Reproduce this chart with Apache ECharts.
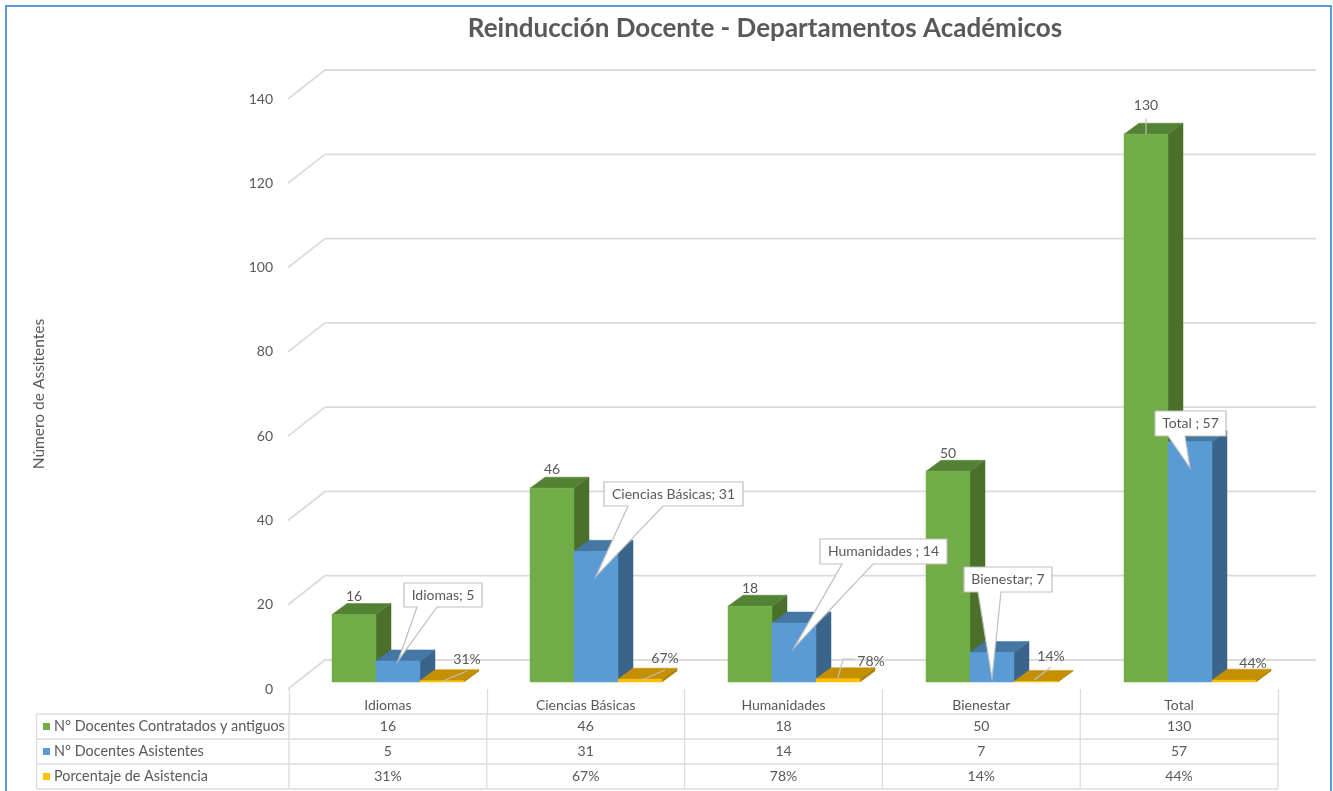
<!DOCTYPE html>
<html>
<head>
<meta charset="utf-8">
<title>Reinducción Docente</title>
<script src="https://cdn.jsdelivr.net/npm/echarts@6/dist/echarts.min.js"></script>
<style>
  html, body { margin: 0; padding: 0; background: #fff; }
  #main { width: 1333px; height: 791px; }
</style>
</head>
<body>
<div id="main"></div>
<script>
// data
const categories = ['Idiomas', 'Ciencias Básicas', 'Humanidades', 'Bienestar', 'Total']
const contratados = [16, 46, 18, 50, 130]
const asistentes = [5, 31, 14, 7, 57]
const porcentaje = [0.31, 0.67, 0.78, 0.14, 0.44]
const yTicks = [0, 20, 40, 60, 80, 100, 120, 140]
const seriesNames = ['N° Docentes Contratados y antiguos', 'N° Docentes Asistentes', 'Porcentaje de Asistencia']
const calloutSeparators = ['; ', '; ', ' ; ', '; ', ' ; ']

// layout of the hand-placed callouts and labels, in pixels
const FONT = 'Lato, "Noto Sans", sans-serif'
const TEXT = '#595959'
const LINE = '#dcdcdc'
const calloutBoxes = [
  { x: 404, y: 583, w: 78, h: 24, root: [417, 437], drop: 0 },
  { x: 604, y: 482, w: 139, h: 24, root: [628, 663], drop: 25 },
  { x: 820, y: 539, w: 127, h: 25, root: [842, 873], drop: 25 },
  { x: 964, y: 567, w: 88, h: 25, root: [978, 1001], drop: 26 },
  { x: 1155, y: 411, w: 71, h: 25, root: [1168, 1185], drop: 26 }
]
const greenLabelLift = [18, 19, 18, 18, 29]
const greenLeaders = [null, null, null, null, [[0, -16], [0, 0]]]
// offsets from the front-left corner of each yellow bar
const pctLabelAt = [[47, -23], [47, -24], [55, -21], [37, -26], [41, -19]]
const pctLeaders = [
  [[47, -11], [23, -1]],
  [[47, -12], [24, -2]],
  [[39, -23], [27, -23], [22, -4]],
  [[37, -15], [20, -2]],
  null
]

const BAR_RATIO = 44 / 198
const DEPTH_X = 15
const DEPTH_Y = 11

function barRect(api, slot) {
  const top = api.coord([api.value(0), api.value(1)])
  const base = api.coord([api.value(0), 0])
  const w = api.size([1, 0])[0] * BAR_RATIO
  return { x: top[0] + (slot - 1.5) * w, top: top[1], base: base[1], w: w }
}

function poly(points, color) {
  return {
    type: 'polygon',
    shape: { points: points },
    style: { fill: color, stroke: color, lineWidth: 0.5 }
  }
}

function leader(points, origin) {
  return {
    type: 'polyline',
    shape: { points: points.map((p) => [origin[0] + p[0], origin[1] + p[1]]) },
    style: { fill: 'none', stroke: '#bfbfbf', lineWidth: 1.2 }
  }
}

function label(text, x, y) {
  return {
    type: 'text',
    style: {
      text: text, x: x, y: y, fill: TEXT,
      font: '14px ' + FONT,
      align: 'center', verticalAlign: 'middle'
    }
  }
}

// one 3D column series: side face, top face and front face
function barSeries(name, values, slot, colors) {
  return {
    name: name,
    type: 'custom',
    xAxisIndex: 0,
    yAxisIndex: 0,
    clip: false,
    data: values.map((v, i) => [i, v]),
    renderItem: function (params, api) {
      const r = barRect(api, slot)
      const l = r.x
      const m = r.x + r.w
      return {
        type: 'group',
        children: [
          poly([[m, r.top], [m + DEPTH_X, r.top - DEPTH_Y], [m + DEPTH_X, r.base - DEPTH_Y], [m, r.base]], colors.side),
          poly([[l, r.top], [l + DEPTH_X, r.top - DEPTH_Y], [m + DEPTH_X, r.top - DEPTH_Y], [m, r.top]], colors.top),
          poly([[l, r.top], [m, r.top], [m, r.base], [l, r.base]], colors.front)
        ]
      }
    }
  }
}

// back wall gridlines, they bend forward at the left wall
const gridSeries = {
  type: 'custom',
  xAxisIndex: 0,
  yAxisIndex: 0,
  clip: false,
  silent: true,
  data: yTicks.map((v) => [0, v]),
  renderItem: function (params, api) {
    const y = api.coord([0, api.value(1)])[1]
    const left = params.coordSys.x
    const right = left + params.coordSys.width
    return {
      type: 'polyline',
      shape: { points: [[left - 11, y + 7], [left + 26, y - 22], [right + 27, y - 22]] },
      style: { fill: 'none', stroke: LINE, lineWidth: 1.8 }
    }
  }
}

const greenLabels = {
  type: 'custom',
  xAxisIndex: 0,
  yAxisIndex: 0,
  clip: false,
  silent: true,
  z: 5,
  data: contratados.map((v, i) => [i, v]),
  renderItem: function (params, api) {
    const i = api.value(0)
    const r = barRect(api, 0)
    const cx = r.x + r.w / 2
    const children = [label(String(api.value(1)), cx, r.top - greenLabelLift[i])]
    if (greenLeaders[i]) children.push(leader(greenLeaders[i], [cx, r.top]))
    return { type: 'group', children: children }
  }
}

const pctLabels = {
  type: 'custom',
  xAxisIndex: 0,
  yAxisIndex: 0,
  clip: false,
  silent: true,
  z: 5,
  data: porcentaje.map((v, i) => [i, v]),
  renderItem: function (params, api) {
    const i = api.value(0)
    const r = barRect(api, 2)
    const at = pctLabelAt[i]
    const children = [label(Math.round(api.value(1) * 100) + '%', r.x + at[0], r.base + at[1])]
    if (pctLeaders[i]) children.push(leader(pctLeaders[i], [r.x, r.base]))
    return { type: 'group', children: children }
  }
}

const callouts = {
  type: 'custom',
  xAxisIndex: 0,
  yAxisIndex: 0,
  clip: false,
  silent: true,
  z: 6,
  data: asistentes.map((v, i) => [i, v]),
  renderItem: function (params, api) {
    const i = api.value(0)
    const r = barRect(api, 1)
    const b = calloutBoxes[i]
    const tip = [r.x + r.w / 2, r.top + b.drop]
    return {
      type: 'group',
      children: [
        {
          type: 'polygon',
          shape: {
            points: [
              [b.x, b.y], [b.x + b.w, b.y], [b.x + b.w, b.y + b.h],
              [b.root[1], b.y + b.h], tip, [b.root[0], b.y + b.h], [b.x, b.y + b.h]
            ]
          },
          style: { fill: '#fff', stroke: '#bfbfbf', lineWidth: 1.2 }
        },
        label(categories[i] + calloutSeparators[i] + api.value(1), b.x + b.w / 2, b.y + b.h / 2)
      ]
    }
  }
}

// data table under the plot
const TABLE_LEFT = 36.5
const TABLE_COL0 = 289
const COL_W = 197.8
const TABLE_TOP = 714
const ROW_H = 25
const keyColors = ['#70ad47', '#5b9bd5', '#ffc000']

function tableLine(x1, y1, x2, y2) {
  return {
    type: 'line',
    shape: { x1: x1, y1: y1, x2: x2, y2: y2 },
    style: { stroke: LINE, lineWidth: 1.3 },
    silent: true
  }
}

function tableGraphics() {
  const out = []
  const right = TABLE_COL0 + COL_W * categories.length
  const rows = [
    contratados.map(String),
    asistentes.map(String),
    porcentaje.map((v) => Math.round(v * 100) + '%')
  ]
  for (let r = 0; r <= rows.length; r++) {
    const y = TABLE_TOP + r * ROW_H
    out.push(tableLine(TABLE_LEFT, y, right, y))
  }
  out.push(tableLine(TABLE_LEFT, TABLE_TOP, TABLE_LEFT, TABLE_TOP + rows.length * ROW_H))
  for (let c = 0; c <= categories.length; c++) {
    const x = TABLE_COL0 + c * COL_W
    out.push(tableLine(x, TABLE_TOP, x, TABLE_TOP + rows.length * ROW_H))
  }
  rows.forEach((row, r) => {
    const y = TABLE_TOP + r * ROW_H + ROW_H / 2
    out.push({
      type: 'rect',
      shape: { x: 43, y: y - 3.5, width: 7, height: 7 },
      style: { fill: keyColors[r] },
      silent: true
    })
    out.push({
      type: 'text',
      silent: true,
      style: {
        text: seriesNames[r], x: 54, y: y, fill: TEXT,
        font: '14.4px ' + FONT, align: 'left', verticalAlign: 'middle'
      }
    })
    row.forEach((cell, c) => {
      out.push({
        type: 'text',
        silent: true,
        style: {
          text: cell, x: TABLE_COL0 + (c + 0.5) * COL_W, y: y, fill: TEXT,
          font: '14px ' + FONT, align: 'center', verticalAlign: 'middle'
        }
      })
    })
  })
  return out
}

const chart = echarts.init(document.getElementById('main'))
chart.setOption({
  animation: false,
  backgroundColor: '#fff',
  textStyle: { fontFamily: FONT },
  title: {
    text: 'Reinducción Docente - Departamentos Académicos',
    left: 760,
    top: 11,
    textAlign: 'center',
    textStyle: { fontFamily: FONT, fontSize: 26, fontWeight: 'bold', color: TEXT }
  },
  // grid 0 is the plane the columns stand on, grid 1 the front edge with the axis labels
  grid: [
    { left: 299, top: 92, width: 990, height: 590 },
    { left: 289, top: 99, width: 989, height: 590 }
  ],
  xAxis: [
    { gridIndex: 0, type: 'category', data: categories, show: false },
    {
      gridIndex: 1,
      type: 'category',
      data: categories,
      axisLine: { show: false },
      axisTick: { show: true, length: 25, lineStyle: { color: LINE, width: 1.3 } },
      axisLabel: { interval: 0, margin: 9, fontSize: 14, color: TEXT, fontFamily: FONT }
    }
  ],
  yAxis: [
    { gridIndex: 0, type: 'value', min: 0, max: 140, interval: 20, show: false },
    {
      gridIndex: 1,
      type: 'value',
      min: 0,
      max: 140,
      interval: 20,
      name: 'Número de Assitentes',
      nameLocation: 'middle',
      nameGap: 242,
      nameTextStyle: { fontSize: 15.5, color: TEXT, fontFamily: FONT },
      axisLine: { show: false },
      axisTick: { show: false },
      splitLine: { show: false },
      axisLabel: { margin: 16, fontSize: 14, color: TEXT, fontFamily: FONT }
    }
  ],
  graphic: [
    {
      type: 'rect',
      silent: true,
      shape: { x: 6, y: 6, width: 1325, height: 800 },
      style: { fill: 'none', stroke: '#5b9bd5', lineWidth: 2 }
    }
  ].concat(tableGraphics()),
  series: [
    gridSeries,
    barSeries(seriesNames[0], contratados, 0, { front: '#70ad47', side: '#4a702b', top: '#548235' }),
    barSeries(seriesNames[1], asistentes, 1, { front: '#5b9bd5', side: '#3a6489', top: '#4477a4' }),
    barSeries(seriesNames[2], porcentaje, 2, { front: '#ffc000', side: '#a87f00', top: '#c49000' }),
    greenLabels,
    pctLabels,
    callouts
  ]
})
</script>
</body>
</html>
